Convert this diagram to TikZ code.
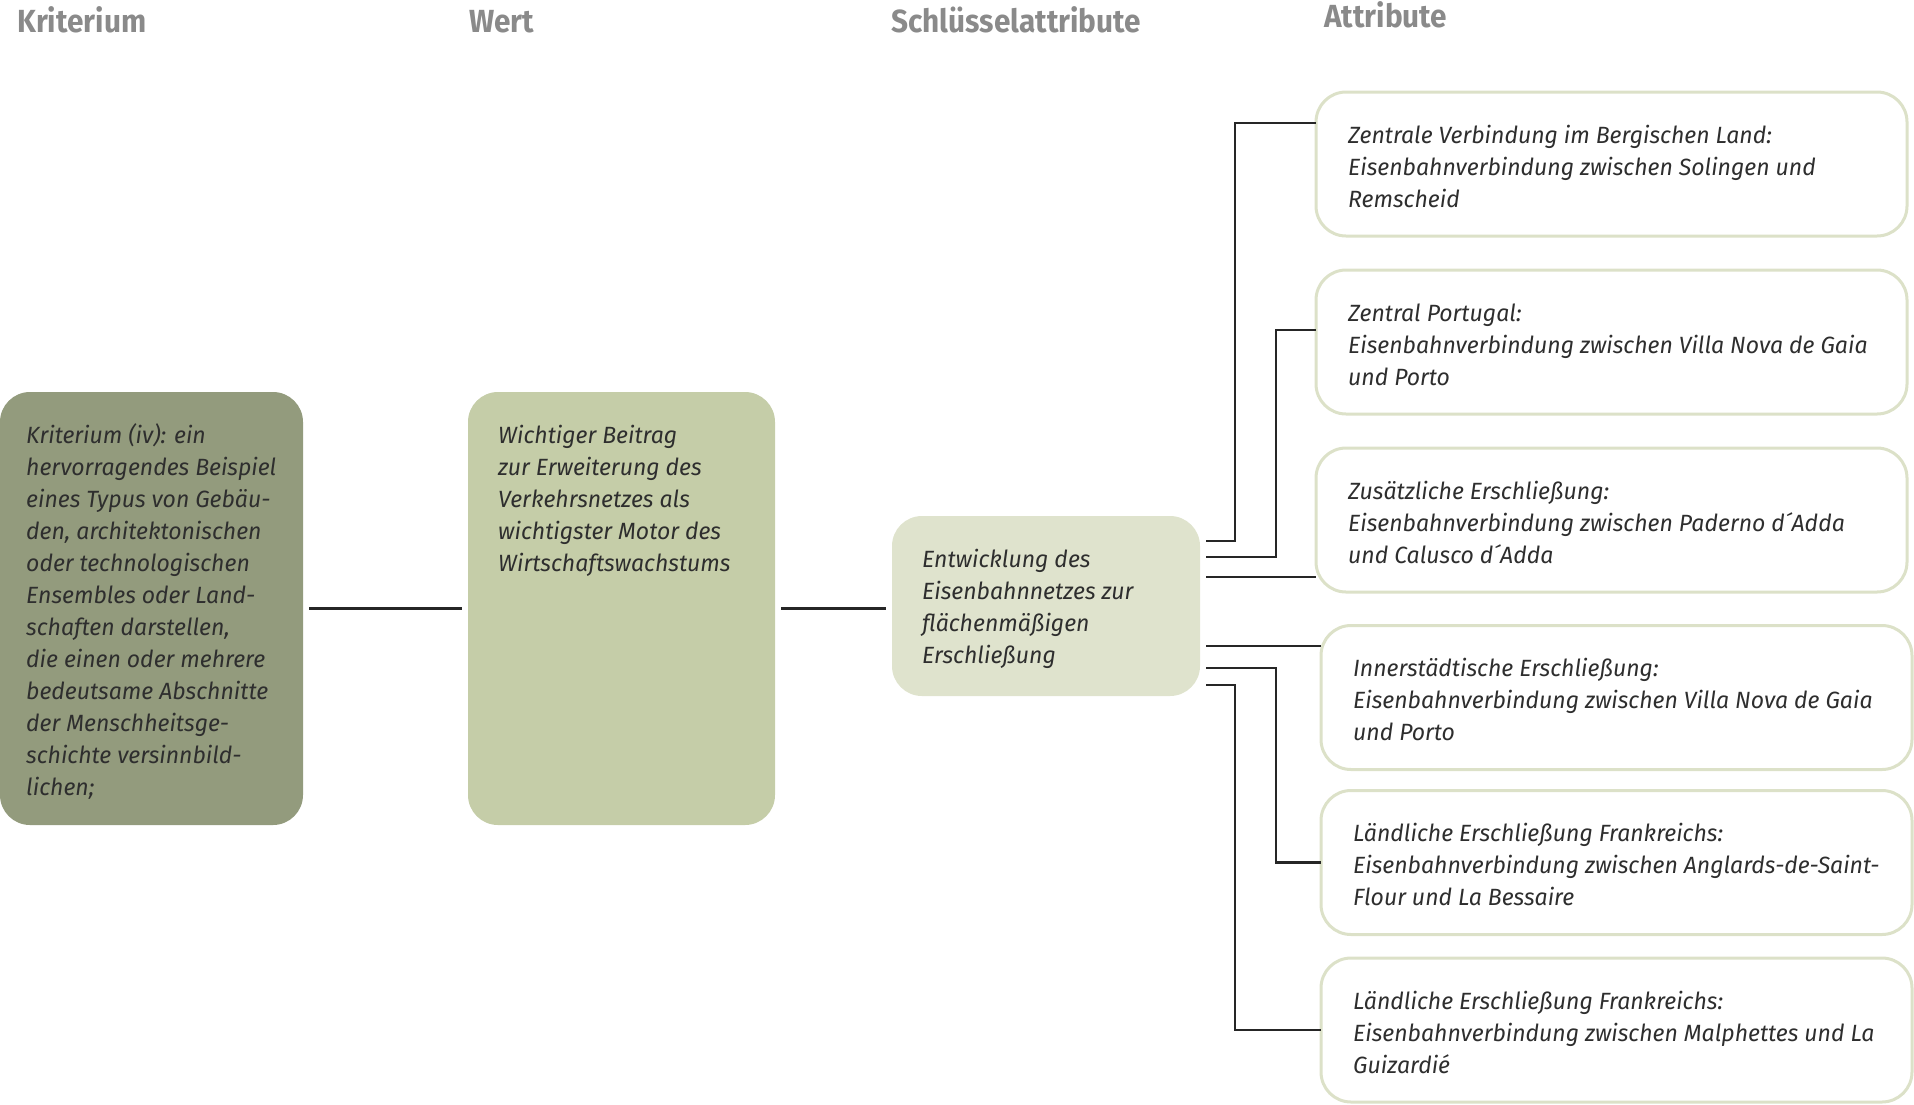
\documentclass[tikz,border=0pt]{standalone}
\usepackage{fontspec}
\setmainfont{Fira Sans}
\newfontfamily\bodyfont[FakeStretch=0.98]{Fira Sans}
\newfontfamily\headfont[FakeStretch=0.93]{Fira Sans}
\definecolor{headgray}{HTML}{8A8A8A}
\definecolor{inkgray}{HTML}{2E2E2E}
\definecolor{oliveA}{HTML}{939B7D}
\definecolor{oliveB}{HTML}{C5CDA8}
\definecolor{oliveC}{HTML}{DFE3CD}
\definecolor{rimgreen}{HTML}{DCE1C8}
\definecolor{linegray}{HTML}{262626}
\begin{document}
\begin{tikzpicture}[x=1pt,y=-1pt,
  header/.style={anchor=base west,inner sep=0pt,text=headgray,
    font=\headfont\bfseries\fontsize{32}{38}\selectfont},
  fillbox/.style={rectangle,rounded corners=30pt,inner sep=0pt,outer sep=6pt},
  attrbox/.style={rectangle,rounded corners=30pt,draw=rimgreen,line width=3pt,
    fill=white,inner sep=0pt,outer sep=0pt,minimum width=591pt,minimum height=144pt},
  bodytext/.style={anchor=north west,inner sep=0pt,align=left,text=inkgray,
    font=\bodyfont\itshape\fontsize{23.5}{32}\selectfont},
  conn/.style={draw=linegray,line width=2.8pt}]
\useasboundingbox (0,0) rectangle (1914,1104);

% column headings
\node[header] (h1) at (17,32) {Kriterium};
\node[header] (h2) at (469,32) {Wert};
\node[header] (h3) at (891,32) {Schlüsselattribute};
\node[header] (h4) at (1324,27) {Attribute};

% criterion, value and key attribute
\node[fillbox,fill=oliveA,minimum width=303pt,minimum height=433pt] (b1) at (151.5,608.5) {};
\node[fillbox,fill=oliveB,minimum width=307pt,minimum height=433pt] (b2) at (621.5,608.5) {};
\node[fillbox,fill=oliveC,minimum width=308pt,minimum height=180pt] (b3) at (1046,606) {};

\node[bodytext] (t1) at ([xshift=32pt,yshift=-34.6pt]b1.north west) {\strut Kriterium (iv): ein\\
hervorragendes Beispiel\\
eines Typus von Gebäu-\\
den, architektonischen\\
oder technologischen\\
Ensembles oder Land-\\
schaften darstellen,\\
die einen oder mehrere\\
bedeutsame Abschnitte\\
der Menschheitsge-\\
schichte versinnbild-\\
lichen;};
\node[bodytext] (t2) at ([xshift=36pt,yshift=-34.6pt]b2.north west) {\strut Wichtiger Beitrag\\
zur Erweiterung des\\
Verkehrsnetzes als\\
wichtigster Motor des\\
Wirtschaftswachstums};
\node[bodytext] (t3) at ([xshift=36pt,yshift=-34.6pt]b3.north west) {\strut Entwicklung des\\
Eisenbahnnetzes zur\\
flächenmäßigen\\
Erschließung};

% attributes
\node[attrbox] (rA) at (1611.5,164) {};
\node[attrbox] (rB) at (1611.5,342) {};
\node[attrbox] (rC) at (1611.5,520) {};
\node[attrbox] (rD) at (1616.5,697.5) {};
\node[attrbox] (rE) at (1616.5,862.5) {};
\node[attrbox] (rF) at (1616.5,1030) {};

\node[bodytext] (tA) at ([xshift=32pt,yshift=-28.6pt]rA.north west) {\strut Zentrale Verbindung im Bergischen Land:\\
Eisenbahnverbindung zwischen Solingen und\\
Remscheid};
\node[bodytext] (tB) at ([xshift=32pt,yshift=-28.6pt]rB.north west) {\strut Zentral Portugal:\\
Eisenbahnverbindung zwischen Villa Nova de Gaia\\
und Porto};
\node[bodytext] (tC) at ([xshift=32pt,yshift=-28.6pt]rC.north west) {\strut Zusätzliche Erschließung:\\
Eisenbahnverbindung zwischen Paderno d´Adda\\
und Calusco d´Adda};
\node[bodytext] (tD) at ([xshift=32pt,yshift=-28.6pt]rD.north west) {\strut Innerstädtische Erschließung:\\
Eisenbahnverbindung zwischen Villa Nova de Gaia\\
und Porto};
\node[bodytext] (tE) at ([xshift=32pt,yshift=-28.6pt]rE.north west) {\strut Ländliche Erschließung Frankreichs:\\
Eisenbahnverbindung zwischen Anglards-de-Saint-\\
Flour und La Bessaire};
\node[bodytext] (tF) at ([xshift=32pt,yshift=-28.6pt]rF.north west) {\strut Ländliche Erschließung Frankreichs:\\
Eisenbahnverbindung zwischen Malphettes und La\\
Guizardié};

% connectors
\draw[conn] (b1.east) -- (b1.east -| b2.west);
\draw[conn] (b2.east) -- (b2.east -| b3.west);
\draw[conn] ([yshift=65pt]b3.east) -| ([xshift=-81pt,yshift=41pt]rA.west) -- ([yshift=41pt]rA.west);
\draw[conn] ([yshift=49pt]b3.east) -| ([xshift=-40pt,yshift=12pt]rB.west) -- ([yshift=12pt]rB.west);
\draw[conn] ([yshift=29pt]b3.east) -- ([yshift=29pt]b3.east -| rC.west);
\draw[conn] ([yshift=-40pt]b3.east) -- ([yshift=-40pt]b3.east -| rD.west);
\draw[conn] ([yshift=-62pt]b3.east) -| ([xshift=-45pt]rE.west) -- (rE.west);
\draw[conn] ([yshift=-79pt]b3.east) -| ([xshift=-86pt]rF.west) -- (rF.west);
\end{tikzpicture}
\end{document}
